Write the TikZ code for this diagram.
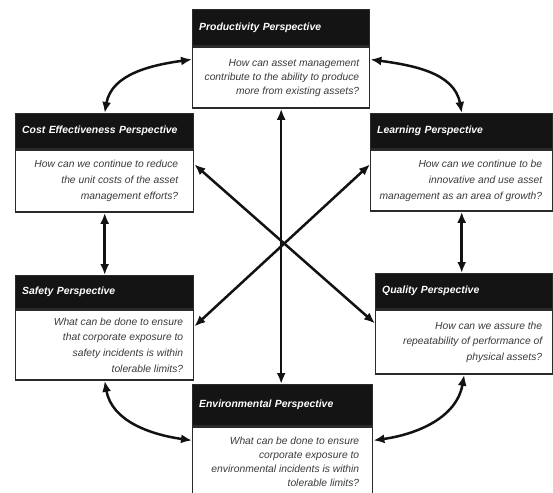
\documentclass[tikz,border=0pt]{standalone}
\usepackage{fontspec}
\setmainfont{Liberation Sans}
\usetikzlibrary{arrows.meta,calc}
\definecolor{boxc}{HTML}{2A2A2A}
\definecolor{hdrc}{HTML}{141414}
\definecolor{txtc}{HTML}{3A3A3A}
\newcommand\myhdrfont{\fontsize{10.4}{12}\selectfont\bfseries\itshape}
\begin{document}
\begin{tikzpicture}[x=1pt,y=-1pt,
  hdr/.style={draw=boxc, line width=1.4pt, fill=hdrc, text=white, font=\myhdrfont,
    anchor=north west, inner xsep=6.5pt, inner ysep=0pt, align=left},
  bodybox/.style={draw=boxc, line width=1.4pt, fill=white, anchor=north west, inner sep=0pt},
  qtext/.style={anchor=east, align=right, text=txtc, inner sep=0pt},
  conn/.style={line width=2.5pt, draw=black!93,
    {Latex[length=11pt,width=9pt]}-{Latex[length=11pt,width=9pt]}}
]
\useasboundingbox (0,0) rectangle (553,492);
\clip (0,0) rectangle (553,492);
\fill[white] (0,0) rectangle (553,492);

% Productivity
\node[hdr, text width=164pt, minimum height=36pt] (prodH) at (192,9) {Productivity Perspective};
\node[bodybox, minimum width=177pt, minimum height=61pt] (prodB) at (prodH.south west) {};
\node[qtext, font={\fontsize{10.3}{14}\selectfont\itshape}] (prodT) at ([xshift=-11pt]prodB.east)
  {How can asset management\\contribute to the ability to produce\\more from existing assets?};

% Cost
\node[hdr, text width=165pt, minimum height=35pt] (costH) at (15,113) {Cost Effectiveness Perspective};
\node[bodybox, minimum width=178pt, minimum height=62pt] (costB) at (costH.south west) {};
\node[qtext, font={\fontsize{10.3}{16}\selectfont\itshape}] (costT) at ([xshift=-16pt]costB.east)
  {How can we continue to reduce\\the unit costs of the asset\\management efforts?};

% Learning
\node[hdr, text width=169pt, minimum height=35pt] (learnH) at (370,113) {Learning Perspective};
\node[bodybox, minimum width=182pt, minimum height=61pt] (learnB) at (learnH.south west) {};
\node[qtext, font={\fontsize{10.3}{16}\selectfont\itshape}] (learnT) at ([xshift=-11pt]learnB.east)
  {How can we continue to be\\innovative and use asset\\management as an area of growth?};

% Safety
\node[hdr, text width=165pt, minimum height=33pt] (safeH) at (15,275) {Safety Perspective};
\node[bodybox, minimum width=178pt, minimum height=70pt] (safeB) at (safeH.south west) {};
\node[qtext, font={\fontsize{10.3}{15.7}\selectfont\itshape}] (safeT) at ([xshift=-11pt]safeB.east)
  {What can be done to ensure\\that corporate exposure to\\safety incidents is within\\tolerable limits?};

% Quality
\node[hdr, text width=164pt, minimum height=35pt] (qualH) at (375,273) {Quality Perspective};
\node[bodybox, minimum width=177pt, minimum height=64pt] (qualB) at (qualH.south west) {};
\node[qtext, font={\fontsize{10.3}{15.5}\selectfont\itshape}] (qualT) at ([xshift=-11pt]qualB.east)
  {How can we assure the\\repeatability of performance of\\physical assets?};

% Environmental
\node[hdr, text width=167pt, minimum height=41pt] (envH) at (192,384) {Environmental Perspective};
\node[bodybox, minimum width=180pt, minimum height=71pt] (envB) at (envH.south west) {};
\node[qtext, font={\fontsize{10.3}{14}\selectfont\itshape}] (envT) at ([xshift=-14pt,yshift=1pt]envB.east)
  {What can be done to ensure\\corporate exposure to\\environmental incidents is within\\tolerable limits?};

% connectors
\draw[conn] (costH.north) to[out=80,in=188] ([yshift=-13pt]prodB.north west);
\draw[conn] (learnH.north) to[out=100,in=-8] ([yshift=-13pt]prodB.north east);
\draw[conn] (safeB.south) to[out=-80,in=172] ([yshift=-14pt]envB.north west);
\draw[conn] (qualB.south) to[out=-100,in=8] ([yshift=-14pt]envB.north east);
\draw[conn] (costB.south) -- (safeH.north);
\draw[conn] (learnB.south) -- (learnB.south |- qualH.north);
\draw[conn] (prodB.south) -- (prodB.south |- envH.north);
\draw[conn] ([yshift=-15pt]costB.north east) -- ([yshift=-14pt]qualB.north west);
\draw[conn] ([yshift=-15pt]learnB.north west) -- ([yshift=-17pt]safeB.north east);
\end{tikzpicture}
\end{document}
